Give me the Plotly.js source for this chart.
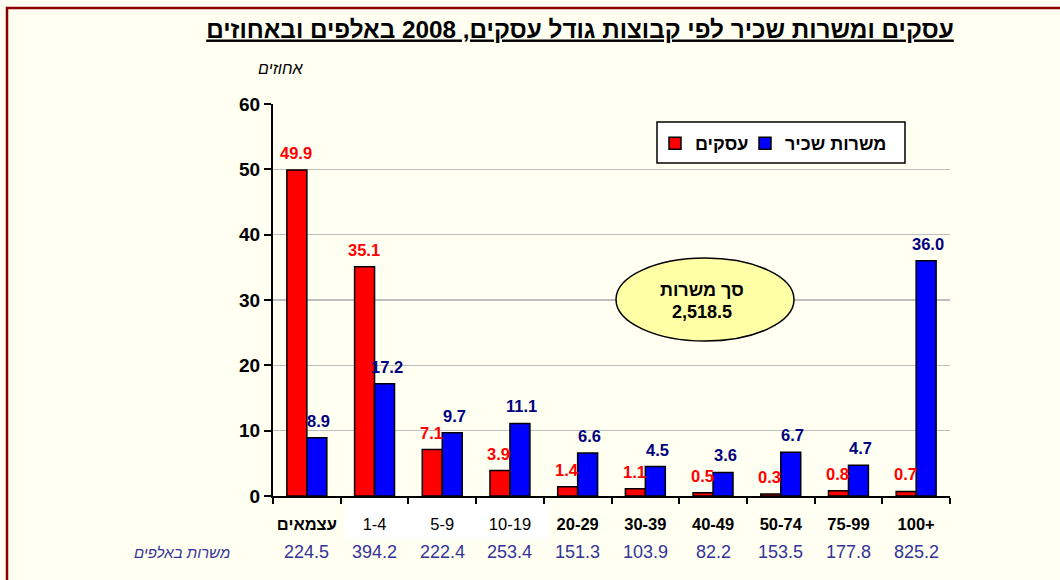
<!DOCTYPE html>
<html>
<head>
<meta charset="utf-8">
<script src="https://cdn.plot.ly/plotly-3.0.1.min.js"></script>
<style>html,body{margin:0;padding:0;background:#FFFFF2;}</style>
</head>
<body>
<div id="chart" style="width:1060px;height:580px;"></div>
<script>
const categories = ['עצמאים','1-4','5-9','10-19','20-29','30-39','40-49','50-74','75-99','100+'];
const businesses = [49.9, 35.1, 7.1, 3.9, 1.4, 1.1, 0.5, 0.3, 0.8, 0.7];
const jobsPct = [8.9, 17.2, 9.7, 11.1, 6.6, 4.5, 3.6, 6.7, 4.7, 36.0];
const jobsThousands = [224.5, 394.2, 222.4, 253.4, 151.3, 103.9, 82.2, 153.5, 177.8, 825.2];
const plainLabels = ['1-4','5-9','10-19'];
const totalJobs = '2,518.5';

const FONT = 'Liberation Sans, Arial, sans-serif';
const W = 1060, H = 580;
const M = {l: 273, r: 110, t: 104, b: 84};
const plotW = W - M.l - M.r, plotH = H - M.t - M.b;
const px = x => (x - M.l) / plotW;          // pixel -> paper x
const py = y => (H - M.b - y) / plotH;      // pixel -> paper y
const BARGAP = 0.41;
const barOffset = (plotW / categories.length) * (1 - BARGAP) / 4;

const traces = [
  {
    type: 'bar', name: 'עסקים', x: categories, y: businesses, legend: 'legend',
    marker: {color: '#FF0000', line: {color: '#000000', width: 1.5}},
    hoverinfo: 'skip'
  },
  {
    type: 'bar', name: 'משרות שכיר', x: categories, y: jobsPct, legend: 'legend2',
    marker: {color: '#0000FF', line: {color: '#000000', width: 1.5}},
    hoverinfo: 'skip'
  }
];

const annotations = [];
businesses.forEach((v, i) => annotations.push({
  x: categories[i], xref: 'x', y: v, yref: 'y', yanchor: 'bottom',
  xshift: -barOffset - 1, yshift: 6,
  text: '<b>' + v.toFixed(1) + '</b>', showarrow: false,
  font: {size: 16.5, color: '#FF0000', family: FONT}
}));
jobsPct.forEach((v, i) => annotations.push({
  x: categories[i], xref: 'x', y: v, yref: 'y', yanchor: 'bottom',
  xshift: barOffset + 2, yshift: 6,
  text: '<b>' + v.toFixed(1) + '</b>', showarrow: false,
  font: {size: 16.5, color: '#000080', family: FONT}
}));
jobsThousands.forEach((v, i) => annotations.push({
  x: categories[i], xref: 'x', y: py(552), yref: 'paper', yanchor: 'middle',
  text: v.toFixed(1), showarrow: false,
  font: {size: 18, color: '#333399', family: FONT}
}));
annotations.push({
  x: px(232), xref: 'paper', y: py(552), yref: 'paper', xanchor: 'right', yanchor: 'middle',
  text: '<i>משרות באלפים</i>', showarrow: false,
  font: {size: 15, color: '#333399', family: FONT}
});
annotations.push({
  x: px(281), xref: 'paper', y: py(68), yref: 'paper', xanchor: 'center', yanchor: 'middle',
  text: '<i>אחוזים</i>', showarrow: false,
  font: {size: 16, color: '#000000', family: FONT}
});
annotations.push({
  x: px(702), xref: 'paper', y: py(290), yref: 'paper', yanchor: 'middle',
  text: '<b>סך משרות</b>', showarrow: false,
  font: {size: 18, color: '#000000', family: FONT}
});
annotations.push({
  x: px(702), xref: 'paper', y: py(312), yref: 'paper', yanchor: 'middle',
  text: '<b>' + totalJobs + '</b>', showarrow: false,
  font: {size: 18, color: '#000000', family: FONT}
});

const shapes = [
  {type: 'rect', xref: 'paper', yref: 'paper', x0: px(7), x1: px(1070), y0: py(590), y1: py(8),
   line: {color: '#8B0000', width: 2.5}, fillcolor: 'rgba(0,0,0,0)', layer: 'below'},
  {type: 'rect', xref: 'paper', yref: 'paper', x0: px(345), x1: px(548),
   y0: py(540), y1: py(499), line: {width: 0}, fillcolor: '#FFFFFF', layer: 'below'},
  {type: 'rect', xref: 'paper', yref: 'paper', x0: px(657), x1: px(905),
   y0: py(163), y1: py(122), line: {color: '#000000', width: 1.5}, fillcolor: '#FFFFFF', layer: 'above'},
  {type: 'circle', xref: 'paper', yref: 'paper', x0: px(616), x1: px(794),
   y0: py(341), y1: py(258), line: {color: '#000000', width: 1.5}, fillcolor: '#FFFFA6', layer: 'above'}
];

const legendBase = {
  orientation: 'h', xanchor: 'left', y: py(125), yanchor: 'top',
  bgcolor: 'rgba(0,0,0,0)', borderwidth: 0,
  font: {size: 18, family: FONT, color: '#000000', weight: 'bold'},
  itemclick: false
};

const layout = {
  width: W, height: H,
  paper_bgcolor: '#FFFFF2', plot_bgcolor: '#FFFFF2',
  margin: M,
  font: {family: FONT, color: '#000000'},
  title: {
    text: '<b><u>עסקים ומשרות שכיר לפי קבוצות גודל עסקים, 2008 באלפים ובאחוזים</u></b>',
    font: {size: 24.3, family: FONT, color: '#000000'},
    xref: 'container', x: 580 / W, xanchor: 'center',
    yref: 'container', y: 1 - 29 / H, yanchor: 'middle'
  },
  barmode: 'group', bargap: BARGAP, bargroupgap: 0,
  showlegend: true,
  legend: Object.assign({}, legendBase, {x: px(655)}),
  legend2: Object.assign({}, legendBase, {x: px(745)}),
  xaxis: {
    type: 'category', tickmode: 'array', tickvals: categories,
    ticktext: categories.map(c => plainLabels.includes(c) ? c : '<b>' + c + '</b>'),
    tickfont: {size: 16.5, family: FONT, color: '#000000'},
    tickangle: 0, ticklabelstandoff: 12,
    showline: true, linecolor: '#000000', linewidth: 2,
    ticks: 'outside', tickson: 'boundaries', ticklen: 6, tickwidth: 2, tickcolor: '#000000',
    showgrid: false, zeroline: false, fixedrange: true
  },
  yaxis: {
    range: [0, 60], dtick: 10, tick0: 0,
    tickfont: {size: 19, family: FONT, color: '#000000', weight: 'bold'},
    showline: true, linecolor: '#000000', linewidth: 2,
    ticks: 'outside', ticklen: 7, tickwidth: 2, tickcolor: '#000000',
    showgrid: true, gridcolor: '#BEBEBE', gridwidth: 1.5,
    zeroline: false, fixedrange: true
  },
  annotations: annotations,
  shapes: shapes
};

Plotly.newPlot('chart', traces, layout, {displayModeBar: false, staticPlot: true});
</script>
</body>
</html>
